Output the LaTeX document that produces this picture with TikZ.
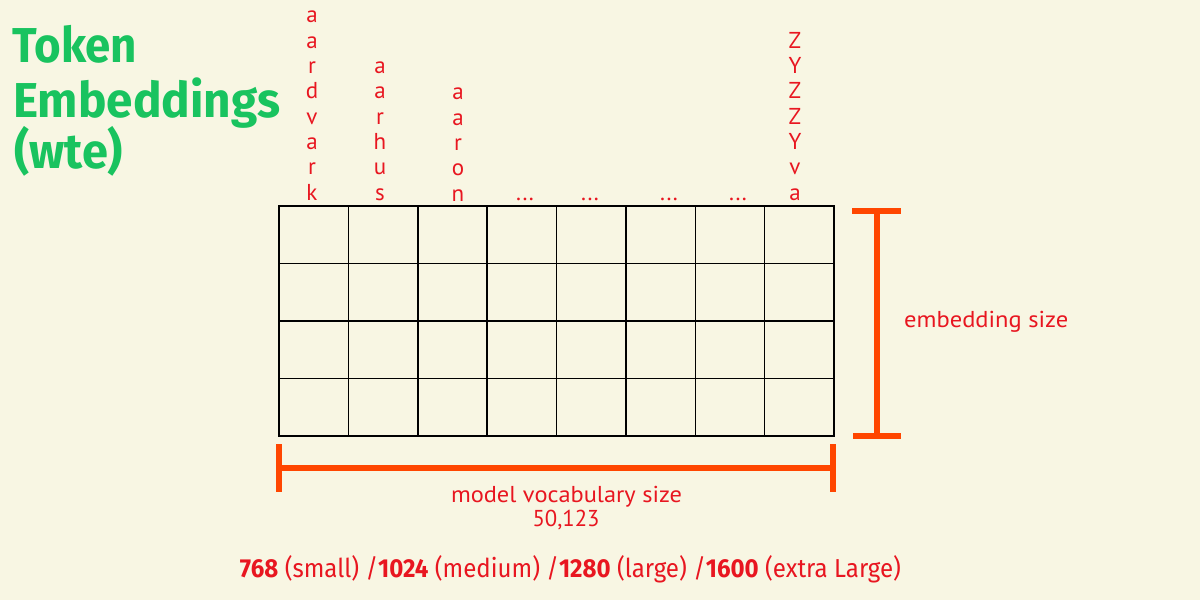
\documentclass[tikz,border=0pt]{standalone}
\usepackage{fontspec}
\usepackage{graphicx}
\setmainfont{PT Sans}
\newfontfamily\titlefont{Fira Sans}
\definecolor{bgc}{RGB}{248,246,227}
\definecolor{redtxt}{RGB}{232,22,32}
\definecolor{barc}{RGB}{255,70,0}
\definecolor{titlegreen}{RGB}{25,195,95}
\newcommand{\fitw}[2]{\resizebox{#1}{\height}{#2}}
\begin{document}
\begin{tikzpicture}[x=1pt,y=-1pt,
  lab/.style={text=redtxt, font=\fontsize{23}{25}\selectfont, inner sep=0pt},
  ttl/.style={text=titlegreen, font=\titlefont\bfseries\fontsize{49}{53}\selectfont, inner sep=0pt, anchor=base west},
  cell/.style={draw=black, line width=1.5pt},
  bar/.style={draw=barc, line width=5.5pt}]
\fill[bgc] (0,0) rectangle (1200,600);
\useasboundingbox (0,0) rectangle (1200,600);

% title
\node[ttl] (title1) at (12,62) {\fitw{125pt}{Token}};
\node[ttl] (title2) at (13,117) {\fitw{267pt}{Embeddings}};
\node[ttl] (title3) at (14,168) {\fitw{109pt}{(wte)}};

% grid
\foreach \i in {0,...,7} {
  \foreach \j in {0,...,3} {
    \draw[cell] ({279+\i*69.375},{206+\j*57.5}) rectangle ({279+(\i+1)*69.375},{206+(\j+1)*57.5});
  }
}

% vertical token labels
\foreach \c [count=\i] in {a,a,r,d,v,a,r,k}
  \node[lab,anchor=base] (aardvark\i) at (312,{200-(8-\i)*25.3}) {\c};
\foreach \c [count=\i] in {a,a,r,h,u,s}
  \node[lab,anchor=base] (aarhus\i) at (380,{200-(6-\i)*25.3}) {\c};
\foreach \c [count=\i] in {a,a,r,o,n}
  \node[lab,anchor=base] (aaron\i) at (458,{201-(5-\i)*25.3}) {\c};
\foreach \c [count=\i] in {Z,Y,Z,Z,Y,v,a}
  \node[lab,anchor=base] (zyzzyva\i) at (795,{200-(7-\i)*25.3}) {\c};
\node[lab,anchor=base] (dots1) at (525,200) {...};
\node[lab,anchor=base] (dots2) at (590,200) {...};
\node[lab,anchor=base] (dots3) at (669,200) {...};
\node[lab,anchor=base] (dots4) at (738,200) {...};

% embedding size bracket
\coordinate (ebtop) at (877,211);
\coordinate (ebbot) at (877,436);
\draw[bar] (ebtop) -- (ebbot);
\draw[bar] (852,211) -- (901,211);
\draw[bar] (853,436) -- (901,436);
\node[lab,anchor=base west] (embsize) at (904,327) {\fitw{164pt}{embedding size}};

% vocabulary bracket
\coordinate (vbleft) at (279,468);
\coordinate (vbright) at (833,468);
\draw[bar] (vbleft) -- (vbright);
\draw[bar] (279,444) -- (279,492);
\draw[bar] (833,444) -- (833,492);
\node[lab,anchor=base] (vocab) at (566.5,502) {\fitw{231pt}{model vocabulary size}};
\node[lab,anchor=base] (vocabnum) at (566,526) {\fitw{67pt}{50,123}};

% sizes
\node[lab,anchor=base,font=\titlefont\fontsize{26}{28}\selectfont] (sizes) at (570.5,577)
  {\fitw{661pt}{\textbf{768} (small) /\textbf{1024} (medium) /\textbf{1280} (large) /\textbf{1600} (extra Large)}};
\end{tikzpicture}
\end{document}
